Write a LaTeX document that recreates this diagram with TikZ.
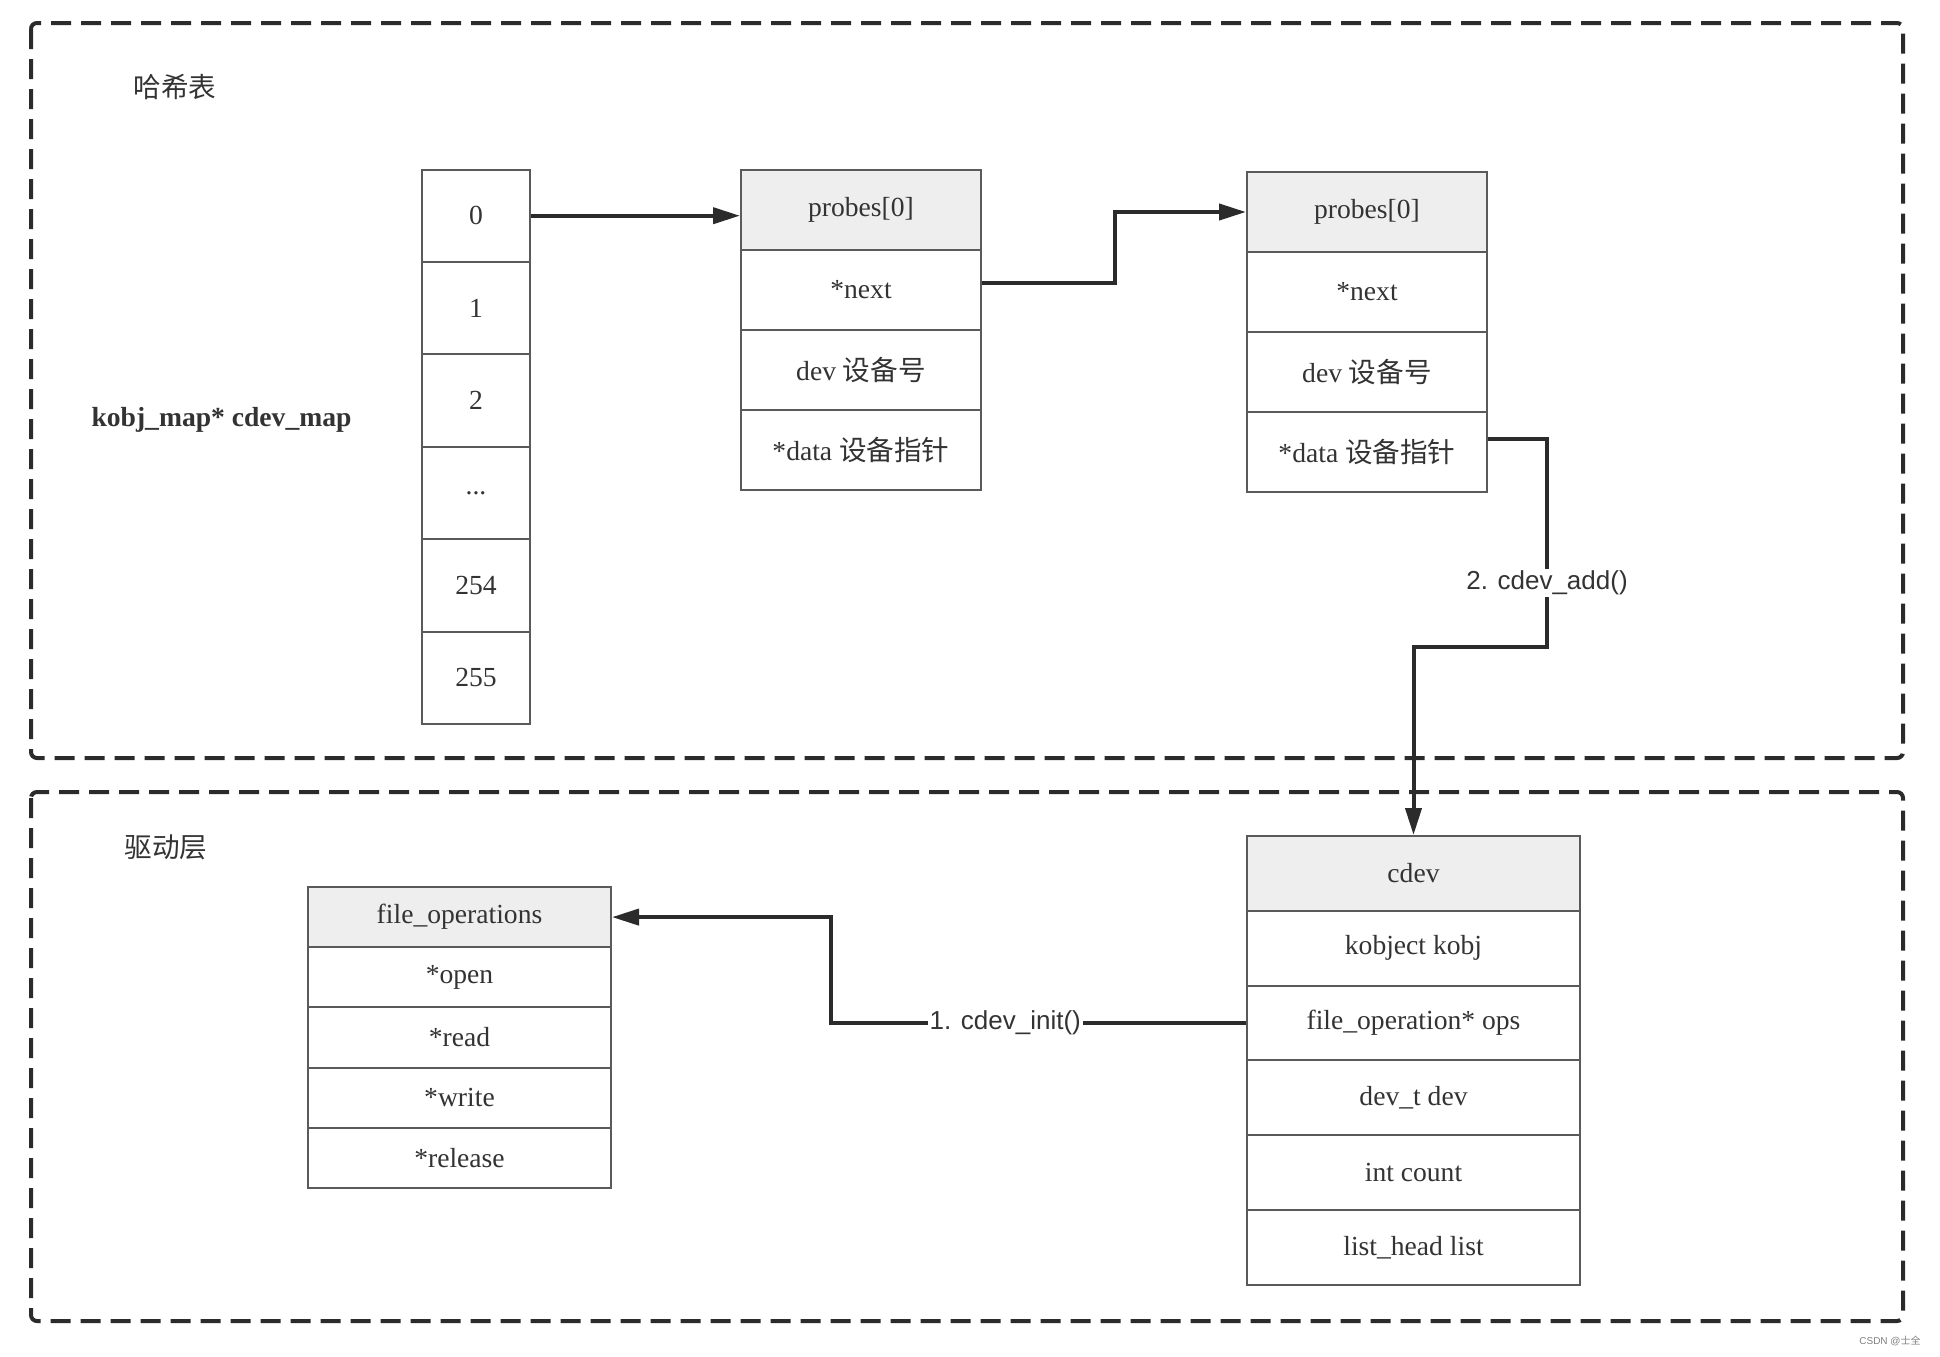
\documentclass[tikz,border=0pt]{standalone}
\usepackage{fontspec}
\setmainfont{Liberation Serif}
\newfontfamily\cjk{Noto Sans CJK SC}
\newfontfamily\lblfont{Liberation Sans}
\usetikzlibrary{arrows.meta}
\definecolor{boxline}{HTML}{5A5A5A}
\definecolor{hdrfill}{HTML}{EEEEEE}
\definecolor{connc}{HTML}{2B2B2B}
\definecolor{txtc}{HTML}{333333}
\begin{document}
\begin{tikzpicture}[x=0.5pt,y=-0.5pt,
  cell/.style={draw=boxline,line width=1pt,inner sep=0pt,fill=white,text=txtc,
    font=\fontsize{13.8}{16}\selectfont},
  arrcell/.style={cell,minimum width=54pt,minimum height=46.2pt},
  pcell/.style={cell,minimum width=120pt,minimum height=40pt},
  phdr/.style={pcell,fill=hdrfill},
  ccell/.style={cell,minimum width=166.5pt,minimum height=37.4pt},
  chdr/.style={ccell,fill=hdrfill},
  fcell/.style={cell,minimum width=151.5pt,minimum height=30.1pt},
  fhdr/.style={fcell,fill=hdrfill},
  conn/.style={draw=connc,line width=2pt},
  arr/.style={conn,-{Triangle[length=13.5pt,width=8pt]}},
  region/.style={draw=connc,line width=2pt,dash pattern=on 10pt off 5pt,rounded corners=3pt},
  lbl/.style={fill=white,font=\lblfont\fontsize{13}{15}\selectfont,text=txtc,inner sep=1pt},
  title/.style={text=txtc,font=\fontsize{13.8}{16}\selectfont}]
\useasboundingbox (0,0) rectangle (1940,1356);

% regions
\draw[region] (31,23) rectangle (1903,758);
\draw[region] (31,792) rectangle (1903,1321);
\node[title] (t1) at (175,87) {\cjk 哈希表};
\node[title] (t2) at (166,847) {\cjk 驱动层};
\node[title,font=\bfseries\fontsize{13.8}{16}\selectfont] (kmap) at (221.5,419.5) {kobj\_map* cdev\_map};

% array
\node[arrcell] (a0) at (476,215.7) {0};
\node[arrcell] (a1) at (476,308.1) {1};
\node[arrcell] (a2) at (476,400.5) {2};
\node[arrcell] (a3) at (476,492.9) {...};
\node[arrcell] (a4) at (476,585.3) {254};
\node[arrcell] (a5) at (476,677.7) {255};

% probe 1
\node[phdr] (p1h) at (861,209.5) {probes[0]};
\node[pcell] (p1n) at (861,289.6) {*next};
\node[pcell] (p1d) at (861,369.7) {dev {\cjk 设备号}};
\node[pcell] (p1p) at (861,449.8) {*data {\cjk 设备指针}};

% probe 2
\node[phdr] (p2h) at (1367,212) {probes[0]};
\node[pcell] (p2n) at (1367,292) {*next};
\node[pcell] (p2d) at (1367,372) {dev {\cjk 设备号}};
\node[pcell] (p2p) at (1367,452) {*data {\cjk 设备指针}};

% cdev
\node[chdr] (c0) at (1413.5,873.4) {cdev};
\node[ccell] (c1) at (1413.5,948.2) {kobject kobj};
\node[ccell] (c2) at (1413.5,1023) {file\_operation* ops};
\node[ccell] (c3) at (1413.5,1097.8) {dev\_t dev};
\node[ccell] (c4) at (1413.5,1172.6) {int count};
\node[ccell] (c5) at (1413.5,1247.4) {list\_head list};

% file_operations
\node[fhdr] (f0) at (459.5,917.1) {file\_operations};
\node[fcell] (f1) at (459.5,977.3) {*open};
\node[fcell] (f2) at (459.5,1037.5) {*read};
\node[fcell] (f3) at (459.5,1097.7) {*write};
\node[fcell] (f4) at (459.5,1157.9) {*release};

% connectors
\draw[arr] (a0.east) -- (a0.east -| p1h.west);
\draw[arr] ([yshift=3.3pt]p1n.east) -| (1115,212) -- (p2h.west);
\draw[arr] ([yshift=6.5pt]p2p.east) -| node[lbl,pos=0.846] {2. cdev\_add()} (1547,647) -| (c0.north);
\draw[arr] (c2.west) -| node[lbl,pos=0.29] {1. cdev\_init()} (831,917.1) -- (f0.east);

% watermark
\node[text=gray,font=\lblfont\fontsize{5}{6}\selectfont] (wm) at (1890,1341) {CSDN @{\cjk 士全}};
\end{tikzpicture}
\end{document}
